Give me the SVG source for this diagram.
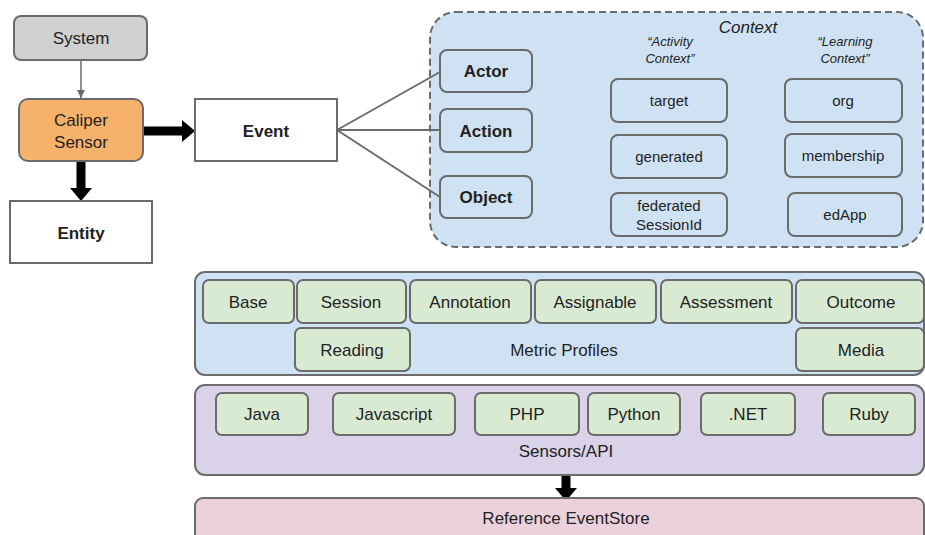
<svg xmlns="http://www.w3.org/2000/svg" width="925" height="535" viewBox="0 0 925 535">
<style>
text{font-family:"Liberation Sans",Arial,sans-serif;fill:#222;text-anchor:middle}
.b{stroke:#6b6b6b;stroke-width:2}
.g{fill:#d9ead3}
.t17{font-size:17px}
.t15{font-size:15px}
.bold{font-weight:bold}
.it{font-style:italic}
</style>
<defs>
<marker id="ga" viewBox="0 0 10 10" refX="10" refY="5" markerWidth="8" markerHeight="8" markerUnits="userSpaceOnUse" orient="auto"><path d="M0,0L10,5L0,10z" fill="#6b6b6b"/></marker>
<marker id="ba" viewBox="0 0 10 10" refX="10" refY="5" markerWidth="13" markerHeight="22" markerUnits="userSpaceOnUse" preserveAspectRatio="none" orient="auto"><path d="M0,0L10,5L0,10z" fill="#000"/></marker>
</defs>
<g id="connectors">
<line x1="81" y1="60" x2="81" y2="98" stroke="#6b6b6b" stroke-width="1.5" marker-end="url(#ga)"/>
<line x1="143" y1="131" x2="183" y2="131" stroke="#000" stroke-width="9"/>
<line x1="143" y1="131" x2="195" y2="131" stroke="none" marker-end="url(#ba)"/>
<line x1="81" y1="161" x2="81" y2="189" stroke="#000" stroke-width="9"/>
<line x1="81" y1="161" x2="81" y2="201" stroke="none" marker-end="url(#ba)"/>
<line x1="566" y1="475" x2="566" y2="489" stroke="#000" stroke-width="9"/>
<line x1="566" y1="475" x2="566" y2="501" stroke="none" marker-end="url(#ba)"/>
</g>
<g id="context">
<rect x="430" y="12" width="493" height="235" rx="26" fill="#cfe2f3" stroke="#6b6b6b" stroke-width="2" stroke-dasharray="7,4"/>
<text x="748" y="33" class="t17 it">Context</text>
<text x="670" y="46" font-size="13" class="it">“Activity</text>
<text x="670" y="63" font-size="13" class="it">Context”</text>
<text x="845" y="46" font-size="13" class="it">“Learning</text>
<text x="845" y="63" font-size="13" class="it">Context”</text>
</g>
<g id="event-links" stroke="#6b6b6b" stroke-width="2" fill="none">
<line x1="337" y1="130" x2="440" y2="72"/>
<line x1="337" y1="130" x2="440" y2="130"/>
<line x1="337" y1="130" x2="440" y2="197"/>
</g>
<g id="system"><rect x="14" y="16" width="133" height="44" rx="7" fill="#d0d0d0" class="b"/><text x="81" y="44" class="t17">System</text></g>
<g id="caliper"><rect x="19" y="99" width="124" height="62" rx="9" fill="#f6b26b" class="b"/><text x="81" y="126" class="t17">Caliper</text><text x="81" y="148" class="t17">Sensor</text></g>
<g id="event"><rect x="195" y="99" width="142" height="62" fill="#fff" class="b"/><text x="266" y="137" class="t17 bold">Event</text></g>
<g id="entity"><rect x="10" y="201" width="142" height="62" fill="#fff" class="b"/><text x="81" y="239" class="t17 bold">Entity</text></g>
<g id="actor"><rect x="440" y="50" width="92" height="42" rx="7" fill="#cfe2f3" class="b"/><text x="486" y="77" class="t17 bold">Actor</text></g>
<g id="action"><rect x="440" y="109" width="92" height="43" rx="7" fill="#cfe2f3" class="b"/><text x="486" y="137" class="t17 bold">Action</text></g>
<g id="object"><rect x="440" y="176" width="92" height="42" rx="7" fill="#cfe2f3" class="b"/><text x="486" y="203" class="t17 bold">Object</text></g>
<g id="target"><rect x="611" y="79" width="116" height="43" rx="7" fill="#cfe2f3" class="b"/><text x="669" y="106" class="t15">target</text></g>
<g id="generated"><rect x="611" y="135" width="116" height="43" rx="7" fill="#cfe2f3" class="b"/><text x="669" y="162" class="t15">generated</text></g>
<g id="federated"><rect x="611" y="193" width="116" height="43" rx="7" fill="#cfe2f3" class="b"/><text x="669" y="211" class="t15">federated</text><text x="669" y="230" class="t15">SessionId</text></g>
<g id="org"><rect x="785" y="79" width="117" height="43" rx="7" fill="#cfe2f3" class="b"/><text x="843" y="106" class="t15">org</text></g>
<g id="membership"><rect x="785" y="134" width="117" height="43" rx="7" fill="#cfe2f3" class="b"/><text x="843" y="161" class="t15">membership</text></g>
<g id="edapp"><rect x="788" y="193" width="114" height="43" rx="7" fill="#cfe2f3" class="b"/><text x="845" y="220" class="t15">edApp</text></g>
<g id="metric-profiles">
<rect x="195" y="272" width="729" height="103" rx="10" fill="#cfe2f3" class="b"/>
<text x="564" y="356" class="t17">Metric Profiles</text>
</g>
<g id="base"><rect x="203" y="280" width="91" height="43" rx="6" class="g b"/><text x="248" y="308" class="t17">Base</text></g>
<g id="session"><rect x="297" y="280" width="109" height="43" rx="6" class="g b"/><text x="351" y="308" class="t17">Session</text></g>
<g id="annotation"><rect x="410" y="280" width="121" height="43" rx="6" class="g b"/><text x="470" y="308" class="t17">Annotation</text></g>
<g id="assignable"><rect x="535" y="280" width="121" height="43" rx="6" class="g b"/><text x="595" y="308" class="t17">Assignable</text></g>
<g id="assessment"><rect x="661" y="280" width="131" height="43" rx="6" class="g b"/><text x="726" y="308" class="t17">Assessment</text></g>
<g id="outcome"><rect x="796" y="280" width="128" height="43" rx="6" class="g b"/><text x="861" y="308" class="t17">Outcome</text></g>
<g id="reading"><rect x="295" y="328" width="115" height="43" rx="6" class="g b"/><text x="352" y="356" class="t17">Reading</text></g>
<g id="media"><rect x="796" y="328" width="128" height="43" rx="6" class="g b"/><text x="861" y="356" class="t17">Media</text></g>
<g id="sensors-api">
<rect x="195" y="385" width="729" height="90" rx="10" fill="#d9d2e9" class="b"/>
<text x="566" y="457" class="t17">Sensors/API</text>
</g>
<g id="java"><rect x="216" y="393" width="92" height="42" rx="6" class="g b"/><text x="262" y="420" class="t17">Java</text></g>
<g id="javascript"><rect x="333" y="393" width="122" height="42" rx="6" class="g b"/><text x="394" y="420" class="t17">Javascript</text></g>
<g id="php"><rect x="475" y="393" width="104" height="42" rx="6" class="g b"/><text x="527" y="420" class="t17">PHP</text></g>
<g id="python"><rect x="588" y="393" width="92" height="42" rx="6" class="g b"/><text x="634" y="420" class="t17">Python</text></g>
<g id="dotnet"><rect x="701" y="393" width="94" height="42" rx="6" class="g b"/><text x="748" y="420" class="t17">.NET</text></g>
<g id="ruby"><rect x="823" y="393" width="92" height="42" rx="6" class="g b"/><text x="869" y="420" class="t17">Ruby</text></g>
<g id="eventstore">
<rect x="195" y="498" width="729" height="50" rx="8" fill="#ead1dc" class="b"/>
<text x="566" y="524" class="t17">Reference EventStore</text>
</g>
</svg>
